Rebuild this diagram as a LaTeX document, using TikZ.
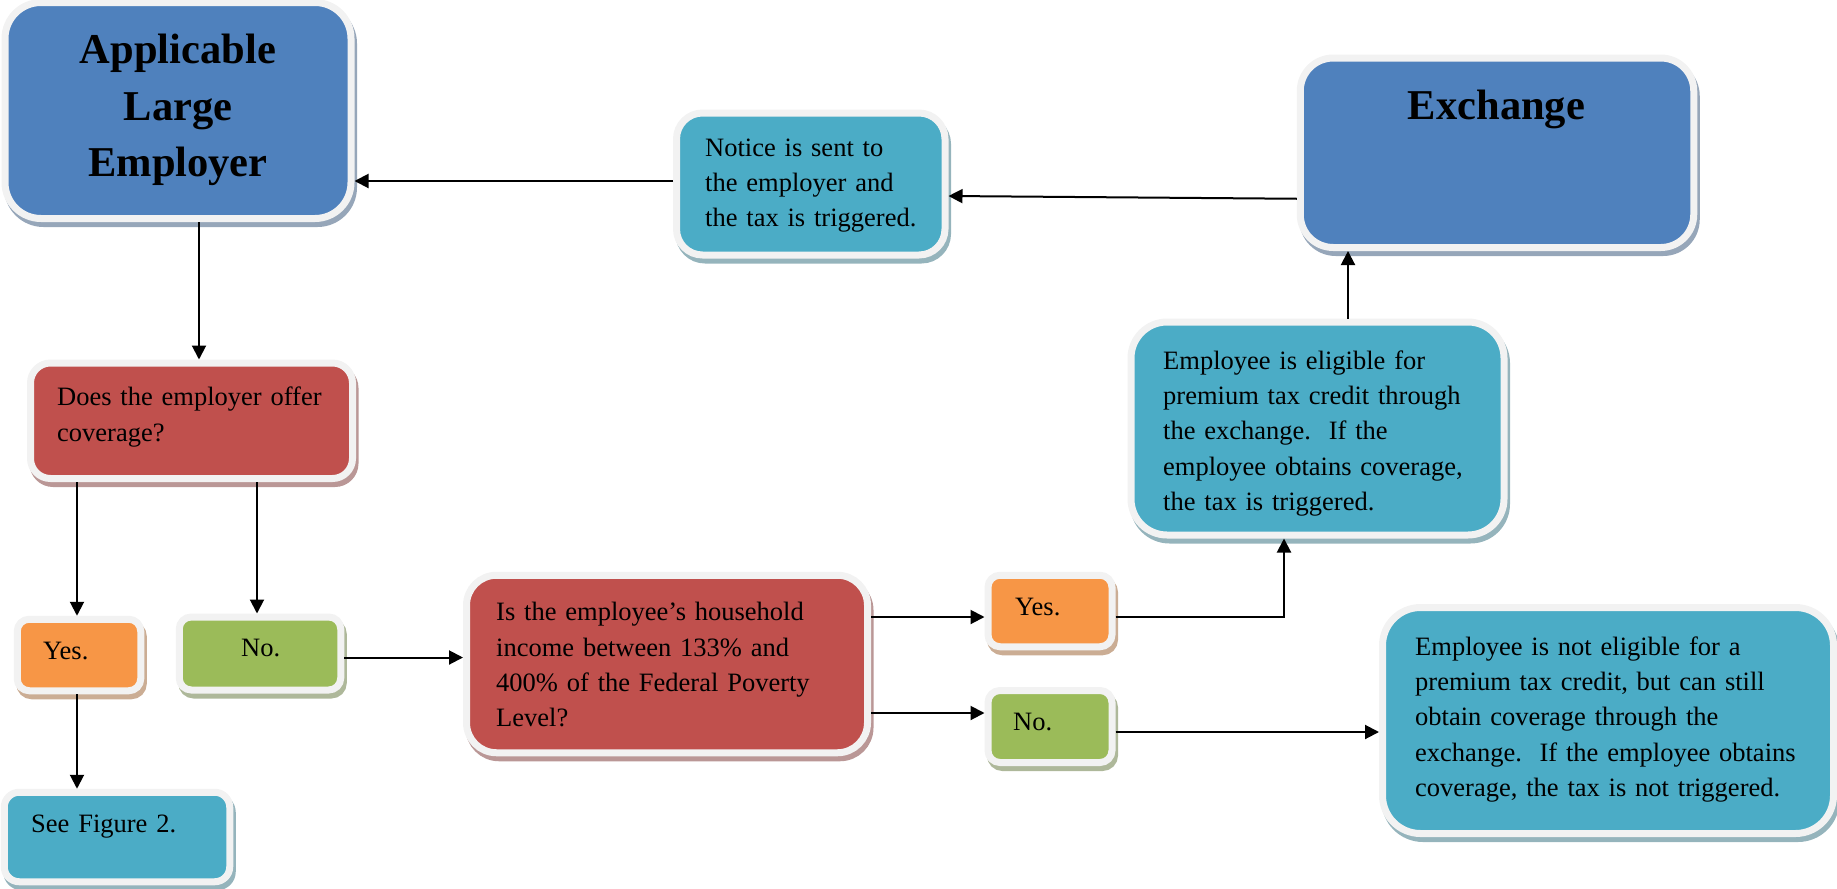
\documentclass[tikz,border=0pt]{standalone}
\usepackage{fontspec}
\setmainfont{Liberation Serif}
\usetikzlibrary{arrows.meta,shadows}
\definecolor{blueF}{HTML}{4F81BD}
\definecolor{tealF}{HTML}{4BACC6}
\definecolor{redF}{HTML}{C0504D}
\definecolor{orangeF}{HTML}{F79646}
\definecolor{greenF}{HTML}{9BBB59}
\definecolor{ring}{HTML}{F2F2F2}
\tikzset{
  box/.style={draw=ring, line width=7pt, fill=#1, inner sep=0pt, outer sep=3.5pt,
    general shadow={fill=#1!45!gray!70!white, draw=#1!45!gray!70!white, line width=7pt,
      shadow xshift=2.5pt, shadow yshift=-5pt}},
  txt/.style={anchor=north west, inner sep=0pt, align=left, text width=480pt,
    font=\fontsize{26.5}{35.3}\selectfont},
  ttl/.style={anchor=north, inner sep=0pt, align=center, text width=380pt,
    font=\bfseries\fontsize{42.5}{56.5}\selectfont},
  arr/.style={line width=2pt, -{Triangle[length=14pt,width=14pt]}},
  ln/.style={line width=2pt}
}
\begin{document}
\begin{tikzpicture}[x=1pt,y=-1pt]
\useasboundingbox (0,0) rectangle (1837,889);
% boxes
\node[box=blueF, rounded corners=36pt, minimum width=346pt, minimum height=216pt] (ale) at (178,110.5) {};
\node[box=tealF, rounded corners=26pt, minimum width=268.5pt, minimum height=142pt] (notice) at (810.75,184) {};
\node[box=blueF, rounded corners=33pt, minimum width=393.5pt, minimum height=189.5pt] (exch) at (1497,152.75) {};
\node[box=tealF, rounded corners=36pt, minimum width=373pt, minimum height=213pt] (elig) at (1317.5,428.5) {};
\node[box=redF, rounded corners=20pt, minimum width=322pt, minimum height=115.5pt] (does) at (191.5,420.75) {};
\node[box=orangeF, rounded corners=12pt, minimum width=123.5pt, minimum height=71.5pt] (yes1) at (79,655) {};
\node[box=greenF, rounded corners=12pt, minimum width=161.5pt, minimum height=73pt] (no1) at (260,653.5) {};
\node[box=tealF, rounded corners=15pt, minimum width=225.5pt, minimum height=89.5pt] (seefig) at (117,837) {};
\node[box=redF, rounded corners=30pt, minimum width=401pt, minimum height=177.5pt] (income) at (667,664) {};
\node[box=orangeF, rounded corners=12pt, minimum width=124pt, minimum height=71.5pt] (yes2) at (1050,611) {};
\node[box=greenF, rounded corners=12pt, minimum width=124pt, minimum height=72pt] (no2) at (1050,726.5) {};
\node[box=tealF, rounded corners=38pt, minimum width=451pt, minimum height=226pt] (notelig) at (1608,720.5) {};
% texts
\node[ttl] (tale) at (178,31.3) {\rule{0pt}{32pt}Applicable\\Large\\Employer};
\node[ttl] (texch) at (1496.5,87) {\rule{0pt}{32pt}Exchange};
\node[txt] (tnotice) at (705,136) {\rule{0pt}{20pt}Notice is sent to\\the employer and\\the tax is triggered.};
\node[txt] (telig) at (1163,349) {\rule{0pt}{20pt}Employee is eligible for\\premium tax credit through\\the exchange.\ \ If the\\employee obtains coverage,\\the tax is triggered.};
\node[txt] (tdoes) at (57,385.5) {\rule{0pt}{20pt}Does the employer offer\\coverage?};
\node[txt] (tincome) at (496,600.5) {\rule{0pt}{20pt}Is the employee’s household\\income between 133\% and\\400\% of the Federal Poverty\\Level?};
\node[txt] (tnotelig) at (1415,635) {\rule{0pt}{20pt}Employee is not eligible for a\\premium tax credit, but can still\\obtain coverage through the\\exchange.\ \ If the employee obtains\\coverage, the tax is not triggered.};
\node[txt] (tyes1) at (43,639) {\rule{0pt}{20pt}Yes.};
\node[txt] (tno1) at (241,636.5) {\rule{0pt}{20pt}No.};
\node[txt] (tyes2) at (1015,595) {\rule{0pt}{20pt}Yes.};
\node[txt] (tno2) at (1013,710) {\rule{0pt}{20pt}No.};
\node[txt] (tseefig) at (31,812) {\rule{0pt}{20pt}See Figure 2.};
% connectors
\draw[arr] ([yshift=3pt]notice.west) -- ([yshift=3pt]notice.west -| ale.east);
\draw[arr] ([yshift=-46pt]exch.west) -- ([yshift=-12pt]notice.east);
\draw[arr] ([xshift=21pt]ale.south) -- ([xshift=21pt]ale.south |- does.north);
\draw[arr] ([xshift=-2pt]yes1.north |- does.south) -- ([xshift=-2pt]yes1.north);
\draw[arr] ([xshift=-3pt]no1.north |- does.south) -- ([xshift=-3pt]no1.north);
\draw[arr] ([yshift=-4pt]no1.east) -- ([yshift=-4pt]no1.east -| income.west);
\draw[arr] ([xshift=-2pt]yes1.south) -- ([xshift=-2pt]yes1.south |- seefig.north);
\draw[arr] ([yshift=-6pt]yes2.west -| income.east) -- ([yshift=-6pt]yes2.west);
\draw[arr] ([yshift=13.5pt]no2.west -| income.east) -- ([yshift=13.5pt]no2.west);
\draw[arr] ([yshift=-6pt]yes2.east) -| ([xshift=-33.5pt]elig.south);
\draw[arr] ([yshift=-5.5pt]no2.east) -- ([yshift=-5.5pt]no2.east -| notelig.west);
\draw[arr] ([xshift=30.5pt]elig.north) -- ([xshift=30.5pt]elig.north |- exch.south);
\end{tikzpicture}
\end{document}
